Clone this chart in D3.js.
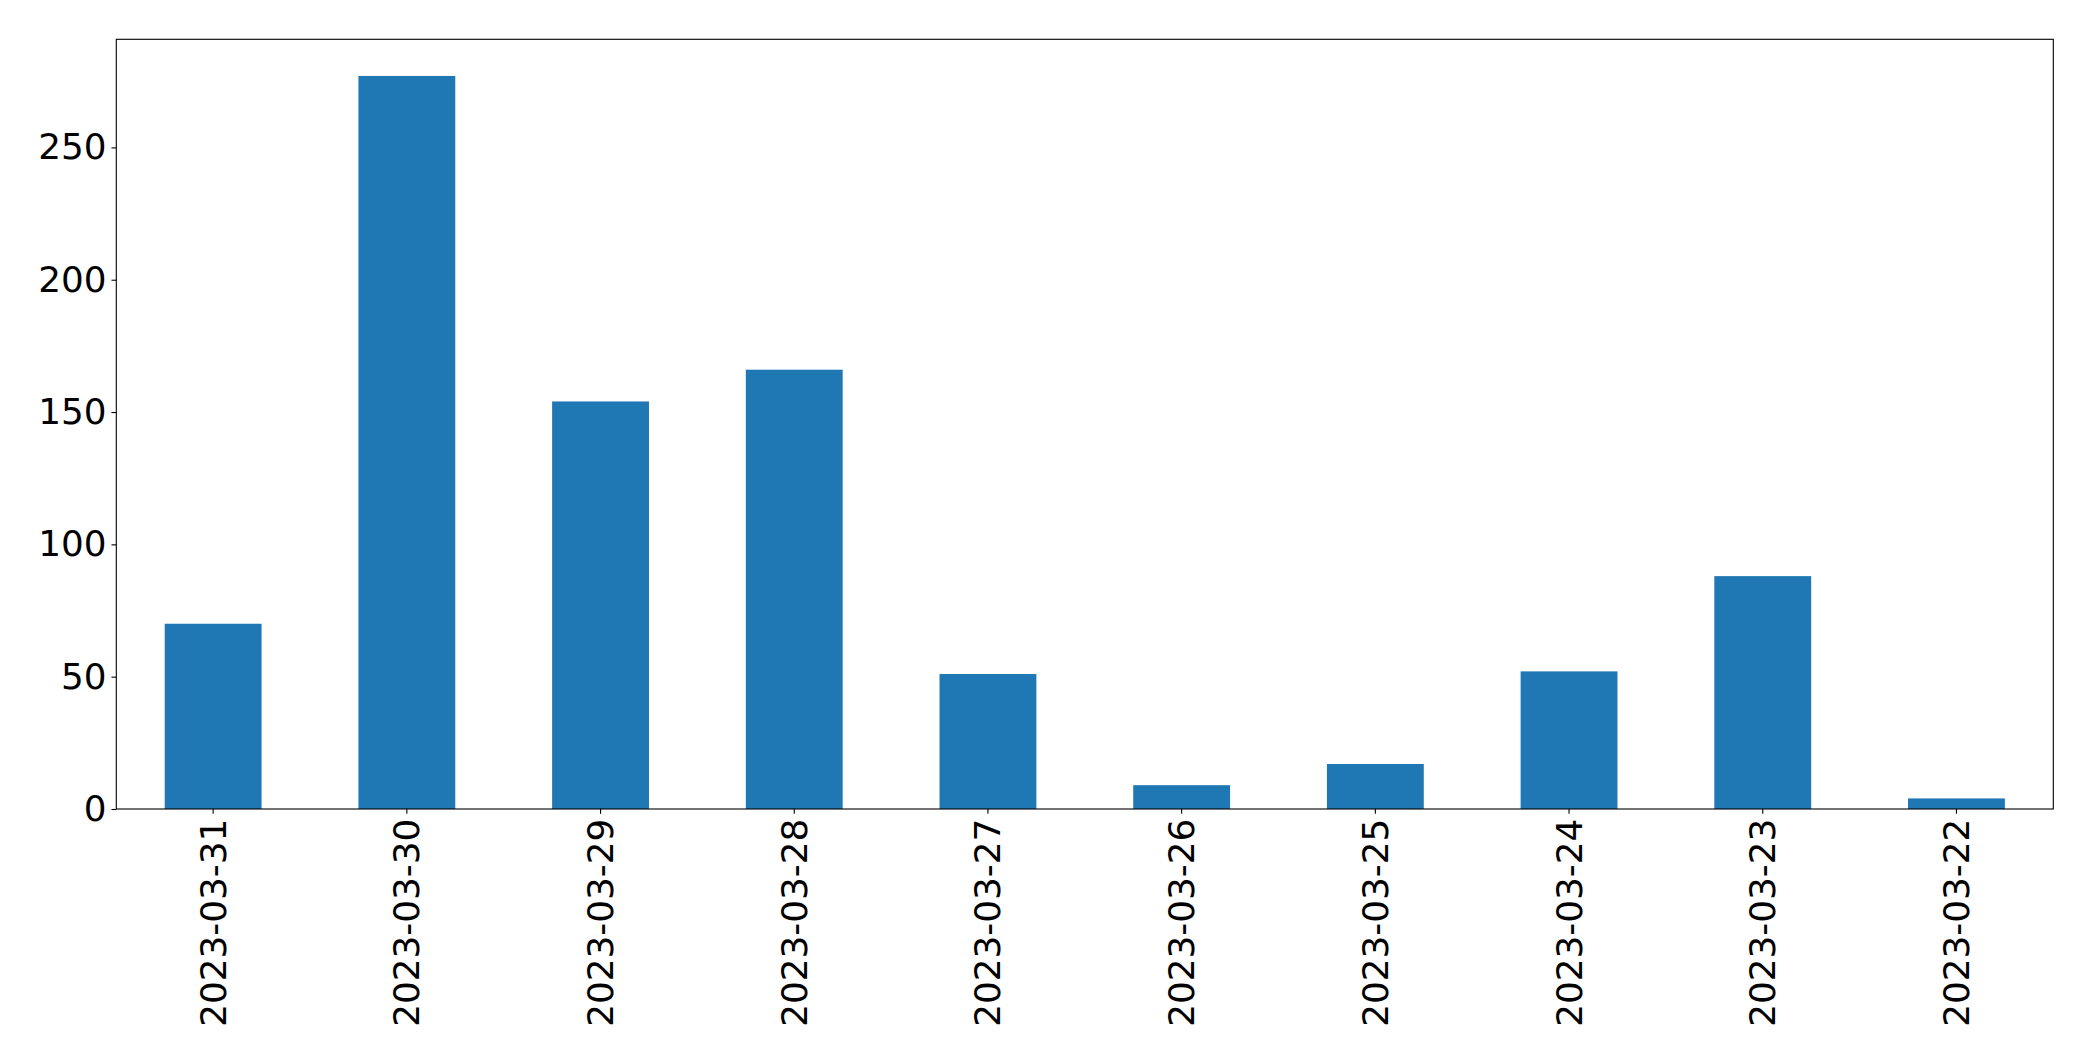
<!DOCTYPE html>
<html>
<head>
<meta charset="utf-8">
<script src="https://cdn.jsdelivr.net/npm/d3@7"></script>
<style>
  html, body { margin: 0; padding: 0; background: #fff; }
  svg { display: block; }
</style>
</head>
<body>
<svg id="chart" width="2093" height="1061"></svg>
<script>
const categories = ["2023-03-31","2023-03-30","2023-03-29","2023-03-28","2023-03-27","2023-03-26","2023-03-25","2023-03-24","2023-03-23","2023-03-22"];
const values = [70, 277, 154, 166, 51, 9, 17, 52, 88, 4];
const yTicks = [0, 50, 100, 150, 200, 250];

(function () {
const W = 2093, H = 1061;
const plotL = 116.3, plotR = 2053.3, plotT = 39.3, plotB = 809;
const fontPx = 35.8, tickLen = 4.86, pad = 4.86;

const svg = d3.select("#chart");
svg.append("rect").attr("width", W).attr("height", H).attr("fill", "#fff");

const x = d3.scaleBand().domain(categories).range([plotL, plotR]).paddingInner(0.5).paddingOuter(0.25);
const yMax = d3.max(values) * 1.05;
const y = d3.scaleLinear().domain([0, yMax]).range([plotB, plotT]);

svg.append("g").selectAll("rect").data(values).join("rect")
  .attr("x", (d, i) => x(categories[i]))
  .attr("width", x.bandwidth())
  .attr("y", d => y(d))
  .attr("height", d => y(0) - y(d))
  .attr("fill", "#1f77b4");

svg.append("rect").attr("x", plotL).attr("y", plotT).attr("width", plotR - plotL).attr("height", plotB - plotT)
  .attr("fill", "none").attr("stroke", "#000").attr("stroke-width", 1.1);

const yAxis = d3.axisLeft(y).tickValues(yTicks).tickSize(tickLen).tickPadding(pad).tickFormat(d3.format("d"));
const gy = svg.append("g").attr("transform", `translate(${plotL},0)`).call(yAxis);
gy.select(".domain").remove();
gy.selectAll(".tick line").attr("stroke", "#000").attr("stroke-width", 1.1);
gy.selectAll(".tick text").attr("font-size", fontPx).attr("fill", "#000").attr("font-family", "DejaVu Sans");

const xAxis = d3.axisBottom(x).tickSize(tickLen).tickPadding(pad);
const gx = svg.append("g").attr("transform", `translate(0,${plotB})`).call(xAxis);
gx.select(".domain").remove();
gx.selectAll(".tick line").attr("stroke", "#000").attr("stroke-width", 1.1);
gx.selectAll(".tick text")
  .attr("font-size", fontPx).attr("fill", "#000").attr("font-family", "DejaVu Sans")
  .attr("transform", "rotate(-90)")
  .attr("text-anchor", "end")
  .attr("x", -(tickLen + pad))
  .attr("y", 0)
  .attr("dy", "0.35em");
})();
</script>
</body>
</html>
